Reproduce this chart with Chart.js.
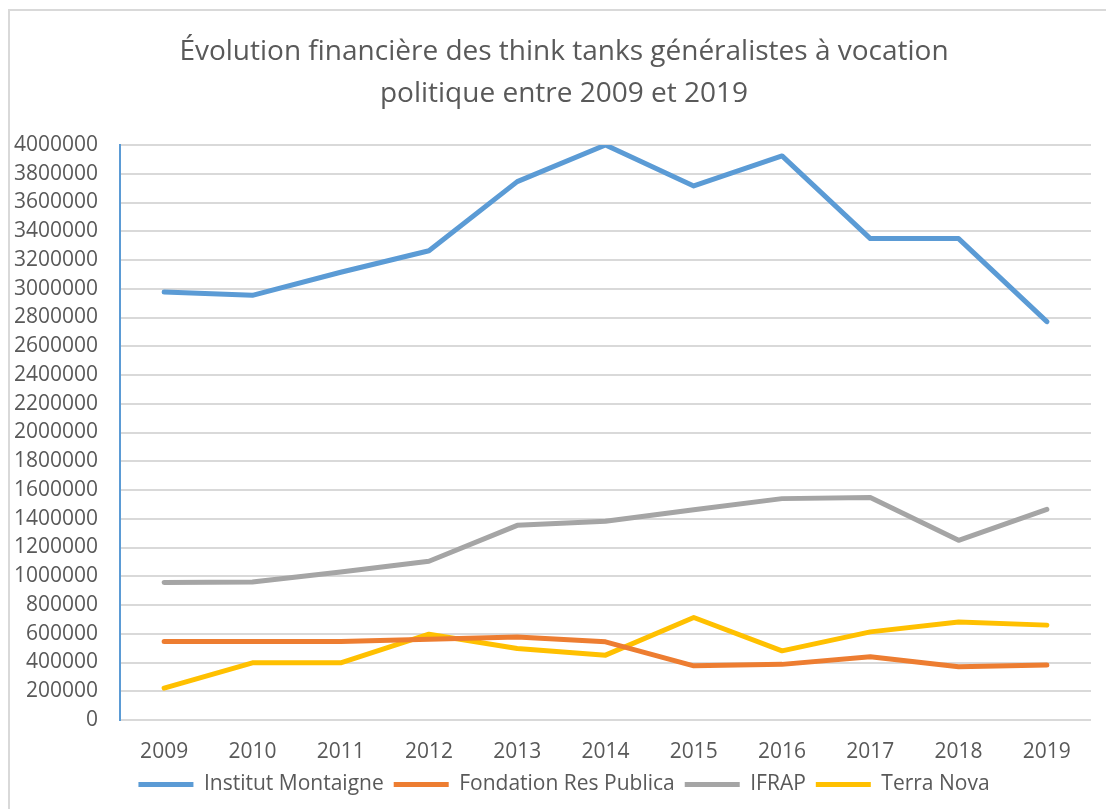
<!DOCTYPE html>
<html>
<head>
<meta charset="utf-8">
<script src="https://cdn.jsdelivr.net/npm/chart.js@4/dist/chart.umd.min.js"></script>
<style>
  body { margin: 0; background: #fff; overflow: hidden; }
  #frame { position: absolute; left: 8px; top: 9px; width: 1200px; height: 900px;
           border-top: 2px solid #d9d9d9; border-left: 2px solid #d9d9d9; }
  #wrap { position: absolute; left: 0; top: 0; width: 1128px; height: 809px; }
</style>
</head>
<body>
<div id="frame"></div>
<div id="wrap"><canvas id="canvas" width="1128" height="809"></canvas></div>
<script>
var annees = ["2009", "2010", "2011", "2012", "2013", "2014", "2015", "2016", "2017", "2018", "2019"];
var institutMontaigne = [2977000, 2954000, 3115000, 3264000, 3745000, 4000000, 3715000, 3924000, 3349000, 3349000, 2771000];
var fondationResPublica = [546000, 546000, 546000, 562000, 578000, 544000, 377000, 387000, 440000, 370000, 382000];
var ifrap = [956000, 960000, 1030000, 1104000, 1354000, 1382000, 1463000, 1540000, 1547000, 1250000, 1465000];
var terraNova = [222000, 398000, 398000, 597000, 498000, 451000, 713000, 481000, 613000, 681000, 660000];

var gris = '#595959';
var police = "'Open Sans', sans-serif";

function serie(nom, valeurs, couleur) {
	return {
		label: nom,
		data: valeurs,
		borderColor: couleur,
		backgroundColor: couleur,
		borderWidth: 5,
		borderCapStyle: 'round',
		borderJoinStyle: 'round',
		pointRadius: 0,
		pointStyle: 'line',
		tension: 0
	};
}

window.onload = function() {
	var ctx = document.getElementById("canvas");
	window.myLine = new Chart(ctx, {
		type: 'line',
		data: {
			labels: annees,
			datasets: [
				serie('Institut Montaigne', institutMontaigne, '#5B9BD5'),
				serie('Fondation Res Publica', fondationResPublica, '#ED7D31'),
				serie('IFRAP', ifrap, '#A5A5A5'),
				serie('Terra Nova', terraNova, '#FFC000')
			]
		},
		options: {
			responsive: false,
			animation: false,
			// canvas plus large que la fenêtre : padding symétrique pour centrer titre et légende à x=564
			layout: { padding: { left: 37, right: 37, top: 0, bottom: 4 } },
			plugins: {
				title: {
					display: true,
					text: ['Évolution financière des think tanks généralistes à vocation', 'politique entre 2009 et 2019'],
					color: gris,
					font: { family: police, size: 28, weight: 'normal', lineHeight: 1.5 },
					padding: { top: 31, bottom: 30 }
				},
				legend: {
					position: 'bottom',
					labels: {
						color: gris,
						font: { family: police, size: 21 },
						usePointStyle: true,
						pointStyleWidth: 55,
						boxHeight: 5,
						padding: 10
					}
				},
				tooltip: { enabled: false }
			},
			scales: {
				x: {
					offset: true,
					grid: { display: false, drawTicks: false },
					border: { display: false },
					ticks: { color: gris, font: { family: police, size: 21 }, padding: 19, maxRotation: 0 },
					afterFit: function(scale) { scale.height = 44; }
				},
				y: {
					min: 0,
					max: 4000000,
					grid: { color: '#D9D9D9', lineWidth: 2, drawTicks: false },
					border: { display: true, color: '#5B9BD5', width: 2 },
					ticks: {
						stepSize: 200000, color: gris, font: { family: police, size: 21 }, padding: 22,
						callback: function(v) { return String(v); }
					},
					afterFit: function(scale) {
						scale.width = 83;
						// les libellés débordent dans le padding gauche : pas de découpage
						scale._computeLabelArea = function() {};
					}
				}
			}
		}
	});
};
</script>
</body>
</html>
